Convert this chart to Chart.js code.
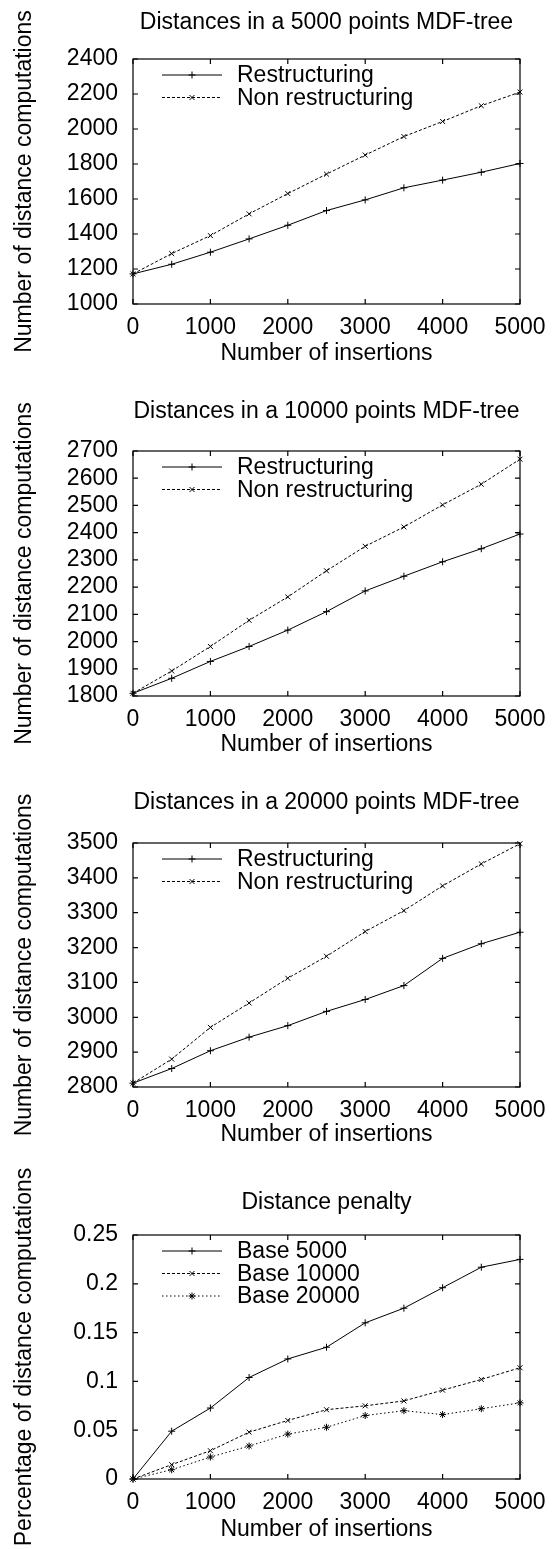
<!DOCTYPE html>
<html>
<head>
<meta charset="utf-8">
<script src="https://cdn.jsdelivr.net/npm/chart.js@4.4.1/dist/chart.umd.min.js"></script>
<style>
  body { margin: 0; background: #fff; }
  #wrap { position: relative; width: 557px; height: 1549px; overflow: hidden; }
  canvas { position: absolute; left: 0; }
</style>
</head>
<body>
<div id="wrap">
  <canvas id="c1" width="557"></canvas>
  <canvas id="c2" width="557"></canvas>
  <canvas id="c3" width="557"></canvas>
  <canvas id="c4" width="557"></canvas>
</div>
<script>
// Data
const insertions = [0, 500, 1000, 1500, 2000, 2500, 3000, 3500, 4000, 4500, 5000];

const restr5000    = [1172, 1227, 1296, 1372, 1450, 1534, 1595, 1664, 1708, 1753, 1803];
const nonRestr5000 = [1172, 1288, 1391, 1515, 1631, 1742, 1851, 1957, 2043, 2133, 2211];

const restr10000    = [1810, 1865, 1927, 1982, 2042, 2110, 2186, 2240, 2293, 2341, 2395];
const nonRestr10000 = [1810, 1892, 1982, 2078, 2164, 2260, 2350, 2421, 2502, 2578, 2670];

const restr20000    = [2811, 2853, 2904, 2943, 2976, 3017, 3051, 3091, 3169, 3211, 3244];
const nonRestr20000 = [2811, 2880, 2971, 3041, 3112, 3175, 3246, 3306, 3377, 3440, 3498];

const penalty5000  = [0, 0.049, 0.0727, 0.104, 0.123, 0.135, 0.160, 0.175, 0.196, 0.217, 0.225];
const penalty10000 = [0, 0.0147, 0.029, 0.048, 0.060, 0.071, 0.075, 0.080, 0.091, 0.102, 0.114];
const penalty20000 = [0, 0.0095, 0.0225, 0.0338, 0.046, 0.053, 0.065, 0.070, 0.066, 0.072, 0.078];

const xTicks = { min: 0, max: 5000, step: 1000 };

const FS = 23;
Chart.defaults.font.family = '"Liberation Sans", Arial, Helvetica, sans-serif';
Chart.defaults.font.size = FS;
Chart.defaults.color = '#000';

const FONT_LH = FS * 1.2;

// gnuplot-like frame with inward ticks on all four sides
const gnuplotFrame = {
  id: 'gnuplotFrame',
  beforeDatasetsDraw(chart) {
    const { ctx, chartArea: a, scales } = chart;
    ctx.save();
    ctx.strokeStyle = '#000';
    ctx.lineWidth = 1.2;
    ctx.setLineDash([]);
    ctx.strokeRect(a.left, a.top, a.right - a.left, a.bottom - a.top);
    ctx.beginPath();
    scales.x.ticks.forEach(t => {
      const px = scales.x.getPixelForValue(t.value);
      ctx.moveTo(px, a.bottom); ctx.lineTo(px, a.bottom - 5);
      ctx.moveTo(px, a.top); ctx.lineTo(px, a.top + 5);
    });
    scales.y.ticks.forEach(t => {
      const py = scales.y.getPixelForValue(t.value);
      ctx.moveTo(a.left, py); ctx.lineTo(a.left + 5, py);
      ctx.moveTo(a.right, py); ctx.lineTo(a.right - 5, py);
    });
    ctx.stroke();
    ctx.restore();
  }
};

// key in the top-left corner: line sample with marker, then label
const gnuplotKey = {
  id: 'gnuplotKey',
  afterDatasetsDraw(chart) {
    const { ctx, chartArea: a } = chart;
    ctx.save();
    chart.data.datasets.forEach((ds, i) => {
      const y = a.top + 16 + i * 22.5;
      const x0 = a.left + 29, x1 = a.left + 89;
      ctx.strokeStyle = '#000';
      ctx.lineWidth = ds.borderWidth;
      ctx.setLineDash(ds.borderDash || []);
      ctx.beginPath();
      ctx.moveTo(x0, y); ctx.lineTo(x1, y);
      ctx.stroke();
      ctx.setLineDash([]);
      ctx.lineWidth = 1;
      Chart.helpers.drawPoint(ctx, { pointStyle: ds.pointStyle, radius: ds.pointRadius, rotation: 0, borderWidth: 1 }, (x0 + x1) / 2, y);
      ctx.fillStyle = '#000';
      ctx.font = FS + 'px "Liberation Sans", Arial, sans-serif';
      ctx.textAlign = 'left';
      ctx.textBaseline = 'middle';
      ctx.fillText(ds.label, a.left + 104, y + 1);
    });
    ctx.restore();
  }
};

function series(label, values, style) {
  return {
    label,
    data: insertions.map((x, i) => ({ x, y: values[i] })),
    borderColor: '#000',
    borderWidth: 1,
    borderDash: style.dash,
    pointStyle: style.point,
    pointRadius: 3.5,
    pointBorderColor: '#000',
    pointBorderWidth: 1,
    pointBackgroundColor: '#000',
    fill: false,
    tension: 0,
    clip: false
  };
}

const SOLID = { dash: [], point: 'cross' };
const DASHED = { dash: [3, 2], point: 'crossRot' };
const DOTTED = { dash: [1.5, 2.5], point: 'star' };

const fmt = v => String(parseFloat(Number(v).toFixed(4)));

// geo: absolute page positions (canvas top, title centre, plot top/bottom, tick centre, x title centre)
function makeChart(id, geo, title, yTitle, yRange, datasets) {
  const cv = document.getElementById(id);
  const T = geo.top;
  const H = Math.round(geo.xTitle - T + FONT_LH / 2 + 4);
  cv.style.top = T + 'px';
  cv.height = H;
  const plotBottomRel = geo.plotBottom - T;

  return new Chart(cv, {
    type: 'line',
    data: { datasets },
    options: {
      responsive: false,
      animation: false,
      devicePixelRatio: 1,
      layout: { padding: { left: 0, right: 557 - 520, top: 0, bottom: 0 } },
      plugins: {
        legend: { display: false },
        tooltip: { enabled: false },
        title: {
          display: true,
          text: title,
          fullSize: false,
          color: '#000',
          font: { size: FS, weight: 'normal' },
          padding: {
            top: geo.title - T - FONT_LH / 2,
            bottom: geo.plotTop - geo.title - FONT_LH / 2
          }
        }
      },
      scales: {
        x: {
          type: 'linear',
          min: xTicks.min,
          max: xTicks.max,
          ticks: { stepSize: xTicks.step, padding: geo.tick - geo.plotBottom - FONT_LH / 2, callback: fmt, maxRotation: 0, autoSkip: false },
          grid: { display: false, drawTicks: false },
          border: { display: false },
          title: { display: true, text: 'Number of insertions', padding: { top: 0, bottom: 4 } },
          afterFit(scale) { scale.height = H - plotBottomRel; }
        },
        y: {
          type: 'linear',
          min: yRange[0],
          max: yRange[1],
          ticks: { stepSize: yRange[2], padding: 15, callback: fmt, autoSkip: false, font: { size: FS, lineHeight: 1 } },
          grid: { display: false, drawTicks: false },
          border: { display: false },
          title: { display: true, text: yTitle, padding: { top: 25 - FONT_LH / 2, bottom: 0 } },
          afterFit(scale) { scale.width = 133; }
        }
      }
    },
    plugins: [gnuplotFrame, gnuplotKey]
  });
}

const yTitleCount = 'Number of distance computations';

makeChart('c1', { top: 0, title: 23, plotTop: 59, plotBottom: 304, tick: 328, xTitle: 353 },
  'Distances in a 5000 points MDF-tree', yTitleCount, [1000, 2400, 200],
  [series('Restructuring', restr5000, SOLID), series('Non restructuring', nonRestr5000, DASHED)]);

makeChart('c2', { top: 380, title: 412, plotTop: 451, plotBottom: 696, tick: 720, xTitle: 744 },
  'Distances in a 10000 points MDF-tree', yTitleCount, [1800, 2700, 100],
  [series('Restructuring', restr10000, SOLID), series('Non restructuring', nonRestr10000, DASHED)]);

makeChart('c3', { top: 770, title: 803, plotTop: 843, plotBottom: 1087, tick: 1111, xTitle: 1134 },
  'Distances in a 20000 points MDF-tree', yTitleCount, [2800, 3500, 100],
  [series('Restructuring', restr20000, SOLID), series('Non restructuring', nonRestr20000, DASHED)]);

makeChart('c4', { top: 1160, title: 1203, plotTop: 1235, plotBottom: 1479, tick: 1503, xTitle: 1529 },
  'Distance penalty', 'Percentage of distance computations', [0, 0.25, 0.05],
  [series('Base 5000', penalty5000, SOLID), series('Base 10000', penalty10000, DASHED), series('Base 20000', penalty20000, DOTTED)]);
</script>
</body>
</html>
